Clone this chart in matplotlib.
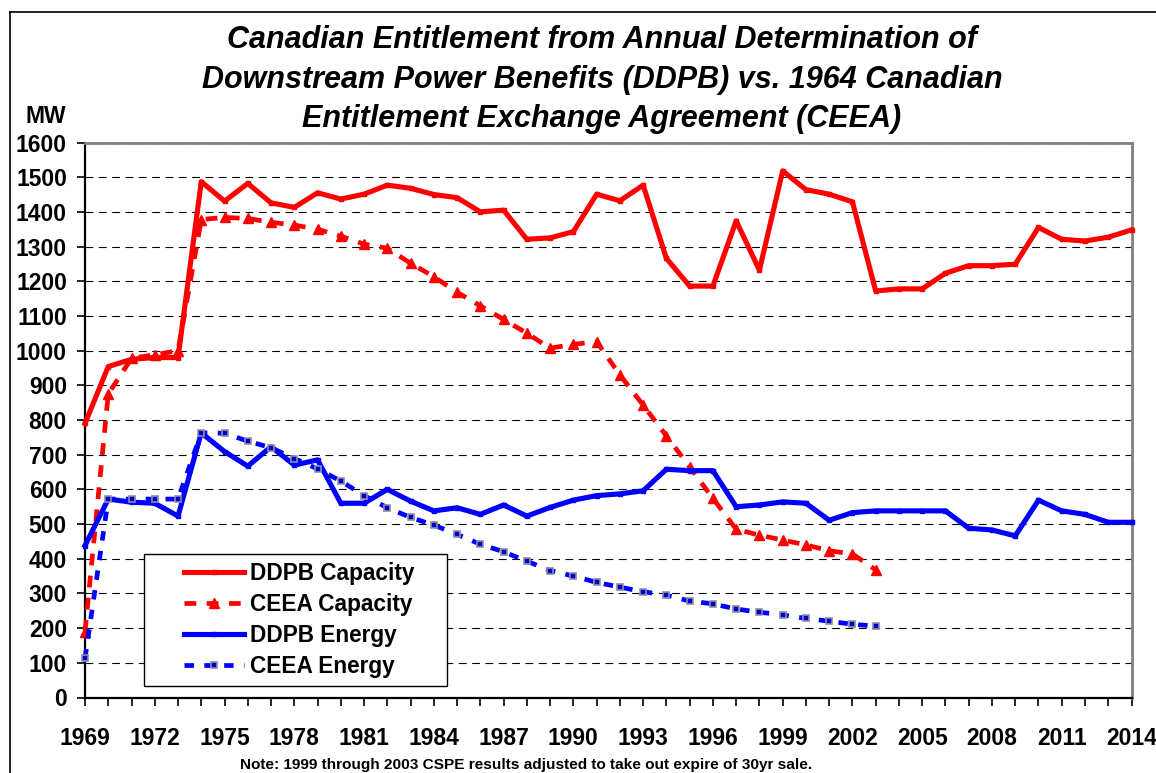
import matplotlib
matplotlib.use("Agg")
import matplotlib.pyplot as plt
from matplotlib.lines import Line2D
from matplotlib.legend_handler import HandlerLine2D
import numpy as np

# ---------------- data ----------------
years = list(range(1969, 2015))
ceea_years = list(range(1969, 2004))

ddpb_capacity = [790, 954, 975, 980, 980, 1487, 1431, 1482, 1426, 1413,
                 1455, 1437, 1451, 1477, 1468, 1450, 1441, 1400, 1405, 1321,
                 1325, 1343, 1451, 1432, 1477, 1266, 1186, 1186, 1374, 1232,
                 1518, 1464, 1451, 1429, 1172, 1178, 1178, 1223, 1245, 1245,
                 1249, 1355, 1321, 1316, 1327, 1348]
ceea_capacity = [190, 875, 978, 988, 1000, 1378, 1384, 1381, 1370, 1362,
                 1350, 1330, 1307, 1295, 1252, 1213, 1168, 1129, 1090, 1050,
                 1007, 1018, 1026, 930, 843, 754, 665, 574, 485, 468,
                 454, 440, 423, 414, 368]
ddpb_energy = [438, 572, 563, 560, 523, 763, 709, 667, 723, 670,
               685, 560, 560, 600, 566, 538, 547, 528, 555, 523,
               548, 569, 582, 587, 596, 658, 654, 654, 550, 555,
               564, 560, 511, 533, 538, 538, 538, 538, 488, 483,
               466, 569, 538, 528, 505, 505]
ceea_energy = [113, 572, 572, 572, 572, 763, 762, 739, 720, 689,
               659, 624, 582, 547, 519, 497, 470, 442, 420, 393,
               366, 350, 332, 318, 305, 295, 278, 270, 255, 246,
               238, 228, 220, 211, 206]

series_labels = ["DDPB Capacity", "CEEA Capacity", "DDPB Energy", "CEEA Energy"]
y_ticks = list(range(0, 1700, 100))
x_label_years = list(range(1969, 2015, 3))

title_lines = ["Canadian Entitlement from Annual Determination of",
               "Downstream Power Benefits (DDPB) vs. 1964 Canadian",
               "Entitlement Exchange Agreement (CEEA)"]
note_text = "Note: 1999 through 2003 CSPE results adjusted to take out expire of 30yr sale."

# ---------------- figure ----------------
plt.rcParams['font.family'] = ['Liberation Sans', 'DejaVu Sans']
W, H = 1156, 773
fig = plt.figure(figsize=(W / 100, H / 100), dpi=100)

def fx(px):
    return px / W

def fy(py):
    return 1 - py / H

ax = fig.add_axes([fx(85), fy(697.5), fx(1131.5) - fx(85), fy(142.5) - fy(697.5)])

RED = "#FF0000"
BLUE = "#0000FF"

ax.plot(years, ddpb_capacity, color=RED, lw=3.7, marker='s', ms=3.5,
        label=series_labels[0], clip_on=False, zorder=3)
ax.plot(ceea_years, ceea_capacity, color=RED, lw=3.4, linestyle=(0, (2.5, 2.2)),
        marker='^', ms=7, label=series_labels[1], clip_on=False, zorder=3)
ax.plot(years, ddpb_energy, color=BLUE, lw=3.7, marker='s', ms=3.5,
        label=series_labels[2], clip_on=False, zorder=3)
ax.plot(ceea_years, ceea_energy, color=BLUE, lw=3.4, linestyle=(0, (2.0, 2.2)),
        marker='s', ms=5, mfc="#0000CC", mec="#8C8CA8", mew=1.2,
        label=series_labels[3], clip_on=False, zorder=3)

ax.set_xlim(1969, 2014)
ax.set_ylim(0, 1600)
ax.set_yticks(y_ticks)
ax.set_yticklabels([str(v) for v in y_ticks])
ax.set_xticks(years)
ax.set_xticklabels([str(y) if y in x_label_years else "" for y in years])

ax.yaxis.grid(True, color="black", linestyle=(0, (7, 5)), linewidth=0.8)
ax.set_axisbelow(True)

for side in ("left", "bottom"):
    ax.spines[side].set_color("black")
    ax.spines[side].set_linewidth(1.6)
for side in ("top", "right"):
    ax.spines[side].set_color("#808080")
    ax.spines[side].set_linewidth(2.0)

ax.tick_params(axis='y', direction='out', length=6, width=1.2, pad=7,
               labelsize=16.5)
ax.tick_params(axis='x', direction='out', length=6, width=1.2, pad=15,
               labelsize=16.5)
for lbl in ax.get_xticklabels() + ax.get_yticklabels():
    lbl.set_fontweight('bold')

# legend
fs_leg = 16.3
leg = ax.legend(loc='upper left',
                bbox_to_anchor=(fx(144), fy(684), fx(447) - fx(144), fy(554) - fy(684)),
                bbox_transform=fig.transFigure, mode='expand', borderaxespad=0,
                prop={'weight': 'bold', 'size': fs_leg}, numpoints=1,
                handlelength=4.05, handletextpad=0.27, borderpad=0.35,
                labelspacing=0.35, fancybox=False, framealpha=1,
                edgecolor='black',
                handler_map={Line2D: HandlerLine2D(xpad=1.4)})
leg.get_frame().set_linewidth(1.0)
leg.set_zorder(5)

# titles
for txt, base in zip(title_lines, [48, 88, 127.5]):
    fig.text(fx(602), fy(base), txt, ha='center', va='baseline',
             fontsize=22, fontweight='bold', fontstyle='italic')

fig.text(fx(46), fy(123), "MW", ha='center', va='baseline',
         fontsize=16.5, fontweight='bold')
fig.text(fx(526), fy(769), note_text, ha='center', va='baseline',
         fontsize=11.1, fontweight='bold')

# outer frame (left and top edges visible)
fig.add_artist(Line2D([fx(10), fx(10)], [fy(12), -0.05], color='black', lw=1.2,
                      transform=fig.transFigure))
fig.add_artist(Line2D([fx(10), 1.05], [fy(12), fy(12)], color='black', lw=1.2,
                      transform=fig.transFigure))

fig.savefig("out.png", dpi=100)
